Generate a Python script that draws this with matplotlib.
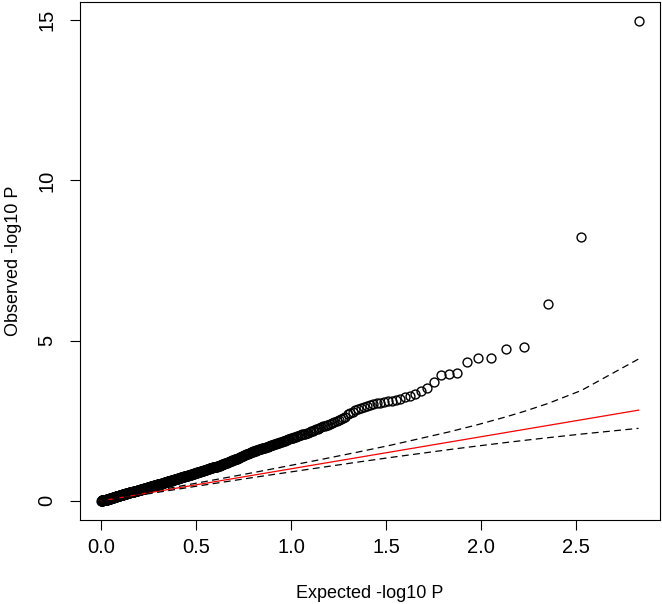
#!/usr/bin/env python3
"""
QQ plot of association p-values
===============================

Observed vs expected -log10 P with the y = x reference line (red) and the
95% concentration band (dashed), drawn R-base style. Saves out.png.
"""

import numpy as np
import matplotlib

matplotlib.use("Agg")
import matplotlib.pyplot as plt

# ---------------------------------------------------------------------------
# Data
# ---------------------------------------------------------------------------

# Observed -log10 P, sorted from most to least significant (one per test).
observed_log10p = [
    # ranks 1-67, individually readable
    14.97, 8.23, 6.15, 4.80, 4.73, 4.47, 4.47, 4.33, 4.00, 3.96,
    3.92, 3.70, 3.52, 3.42, 3.34, 3.27, 3.23, 3.18, 3.16, 3.13,
    3.11, 3.08, 3.06, 3.04, 3.01, 2.98, 2.96, 2.93, 2.90, 2.87,
    2.84, 2.78, 2.73, 2.70, 2.62, 2.57, 2.55, 2.52, 2.49, 2.46,
    2.44, 2.41, 2.38, 2.36, 2.34, 2.32, 2.30, 2.27, 2.25, 2.23,
    2.21, 2.19, 2.17, 2.15, 2.13, 2.12, 2.10, 2.09, 2.07, 2.06,
    2.04, 2.03, 2.02, 2.00, 1.99, 1.97, 1.96,
    # ranks 68-200, dense band
    1.95, 1.93, 1.92, 1.91, 1.90, 1.88, 1.87, 1.86, 1.84, 1.83, 1.82, 1.80, 1.79,
    1.78, 1.77, 1.76, 1.75, 1.74, 1.73, 1.72, 1.71, 1.70, 1.69,
    1.68, 1.67, 1.66, 1.66, 1.65, 1.64, 1.63, 1.62, 1.62, 1.61,
    1.60, 1.59, 1.58, 1.57, 1.56, 1.55, 1.54, 1.53, 1.52, 1.51,
    1.50, 1.49, 1.48, 1.47, 1.46, 1.45, 1.45, 1.44, 1.43, 1.42,
    1.41, 1.40, 1.39, 1.38, 1.37, 1.36, 1.35, 1.34, 1.33, 1.32,
    1.32, 1.31, 1.30, 1.29, 1.28, 1.27, 1.26, 1.26, 1.25, 1.24,
    1.23, 1.23, 1.22, 1.21, 1.21, 1.20, 1.19, 1.19, 1.18, 1.17,
    1.17, 1.16, 1.15, 1.15, 1.14, 1.14, 1.13, 1.12, 1.12, 1.11,
    1.10, 1.10, 1.09, 1.09, 1.08, 1.08, 1.07, 1.07, 1.06, 1.06,
    1.05, 1.05, 1.05, 1.04, 1.04, 1.03, 1.03, 1.03, 1.02, 1.02,
    1.01, 1.01, 1.00, 1.00, 0.99, 0.99, 0.98, 0.98, 0.97, 0.97,
    0.96, 0.96, 0.95, 0.95, 0.95, 0.94, 0.94, 0.93, 0.93, 0.93,
    # ranks 201-400
    0.92, 0.92, 0.92, 0.91, 0.91, 0.91, 0.90, 0.90, 0.89, 0.89,
    0.89, 0.88, 0.88, 0.88, 0.87, 0.87, 0.86, 0.86, 0.86, 0.85,
    0.85, 0.85, 0.84, 0.84, 0.84, 0.83, 0.83, 0.82, 0.82, 0.82,
    0.81, 0.81, 0.81, 0.80, 0.80, 0.80, 0.79, 0.79, 0.78, 0.78,
    0.78, 0.77, 0.77, 0.77, 0.76, 0.76, 0.76, 0.75, 0.75, 0.75,
    0.74, 0.74, 0.74, 0.73, 0.73, 0.73, 0.73, 0.72, 0.72, 0.72,
    0.71, 0.71, 0.71, 0.71, 0.70, 0.70, 0.70, 0.69, 0.69, 0.69,
    0.69, 0.68, 0.68, 0.68, 0.67, 0.67, 0.67, 0.67, 0.66, 0.66,
    0.66, 0.65, 0.65, 0.65, 0.65, 0.64, 0.64, 0.64, 0.64, 0.63,
    0.63, 0.63, 0.63, 0.63, 0.62, 0.62, 0.62, 0.62, 0.61, 0.61,
    0.61, 0.61, 0.60, 0.60, 0.60, 0.60, 0.59, 0.59, 0.59, 0.59,
    0.58, 0.58, 0.58, 0.58, 0.57, 0.57, 0.57, 0.56, 0.56, 0.56,
    0.56, 0.55, 0.55, 0.55, 0.55, 0.54, 0.54, 0.54, 0.54, 0.53,
    0.53, 0.53, 0.53, 0.52, 0.52, 0.52, 0.52, 0.51, 0.51, 0.51,
    0.51, 0.50, 0.50, 0.50, 0.50, 0.50, 0.49, 0.49, 0.49, 0.49,
    0.48, 0.48, 0.48, 0.48, 0.48, 0.47, 0.47, 0.47, 0.47, 0.47,
    0.46, 0.46, 0.46, 0.46, 0.46, 0.45, 0.45, 0.45, 0.45, 0.45,
    0.44, 0.44, 0.44, 0.44, 0.44, 0.43, 0.43, 0.43, 0.43, 0.43,
    0.42, 0.42, 0.42, 0.42, 0.42, 0.41, 0.41, 0.41, 0.41, 0.41,
    0.40, 0.40, 0.40, 0.40, 0.40, 0.40, 0.39, 0.39, 0.39, 0.39,
    # ranks 401-600
    0.39, 0.38, 0.38, 0.38, 0.38, 0.38, 0.38, 0.37, 0.37, 0.37,
    0.37, 0.37, 0.36, 0.36, 0.36, 0.36, 0.36, 0.36, 0.35, 0.35,
    0.35, 0.35, 0.35, 0.35, 0.34, 0.34, 0.34, 0.34, 0.34, 0.34,
    0.33, 0.33, 0.33, 0.33, 0.33, 0.33, 0.32, 0.32, 0.32, 0.32,
    0.32, 0.32, 0.32, 0.31, 0.31, 0.31, 0.31, 0.31, 0.31, 0.31,
    0.30, 0.30, 0.30, 0.30, 0.30, 0.30, 0.29, 0.29, 0.29, 0.29,
    0.29, 0.29, 0.28, 0.28, 0.28, 0.28, 0.28, 0.28, 0.27, 0.27,
    0.27, 0.27, 0.27, 0.27, 0.26, 0.26, 0.26, 0.26, 0.26, 0.26,
    0.25, 0.25, 0.25, 0.25, 0.25, 0.25, 0.25, 0.24, 0.24, 0.24,
    0.24, 0.24, 0.24, 0.23, 0.23, 0.23, 0.23, 0.23, 0.23, 0.23,
    0.22, 0.22, 0.22, 0.22, 0.22, 0.22, 0.22, 0.21, 0.21, 0.21,
    0.21, 0.21, 0.21, 0.21, 0.20, 0.20, 0.20, 0.20, 0.20, 0.20,
    0.20, 0.19, 0.19, 0.19, 0.19, 0.19, 0.19, 0.19, 0.18, 0.18,
    0.18, 0.18, 0.18, 0.18, 0.18, 0.17, 0.17, 0.17, 0.17, 0.17,
    0.17, 0.17, 0.16, 0.16, 0.16, 0.16, 0.16, 0.16, 0.16, 0.16,
    0.15, 0.15, 0.15, 0.15, 0.15, 0.15, 0.15, 0.14, 0.14, 0.14,
    0.14, 0.14, 0.14, 0.14, 0.13, 0.13, 0.13, 0.13, 0.13, 0.13,
    0.13, 0.12, 0.12, 0.12, 0.12, 0.12, 0.12, 0.12, 0.11, 0.11,
    0.11, 0.11, 0.11, 0.11, 0.11, 0.10, 0.10, 0.10, 0.10, 0.10,
    0.10, 0.10, 0.09, 0.09, 0.09, 0.09, 0.09, 0.09, 0.09, 0.09,
    # ranks 601-675
    0.08, 0.08, 0.08, 0.08, 0.08, 0.08, 0.08, 0.08, 0.07, 0.07,
    0.07, 0.07, 0.07, 0.07, 0.07, 0.07, 0.06, 0.06, 0.06, 0.06,
    0.06, 0.06, 0.06, 0.06, 0.05, 0.05, 0.05, 0.05, 0.05, 0.05,
    0.05, 0.05, 0.04, 0.04, 0.04, 0.04, 0.04, 0.04, 0.04, 0.04,
    0.03, 0.03, 0.03, 0.03, 0.03, 0.03, 0.03, 0.03, 0.03, 0.02,
    0.02, 0.02, 0.02, 0.02, 0.02, 0.02, 0.02, 0.02, 0.01, 0.01,
    0.01, 0.01, 0.01, 0.01, 0.01, 0.01, 0.01, 0.01, 0.01, 0.00,
    0.00, 0.00, 0.00, 0.00, 0.00,
]

# 95% band (dashed), vertices
band_expected = [0.0006, 0.0170, 0.0518, 0.1315, 0.2279, 0.3535, 0.5290, 0.6540,
                 0.8300, 1.1310, 1.3530, 1.5290, 1.8300, 1.9850, 2.1310, 2.2280,
                 2.3530, 2.5290, 2.8300]
band_upper = [0.0024, 0.0250, 0.0634, 0.1515, 0.2557, 0.3918, 0.5820, 0.7183,
              0.9136, 1.2590, 1.5230, 1.7420, 2.1480, 2.3800, 2.6190, 2.7920,
              3.0380, 3.4450, 4.4260]
band_lower = [0.0000, 0.0110, 0.0401, 0.1125, 0.2013, 0.3183, 0.4810, 0.5952,
              0.7545, 1.0180, 1.2100, 1.3570, 1.5970, 1.7130, 1.8190, 1.8860,
              1.9700, 2.0830, 2.2620]

x_ticks = [0.0, 0.5, 1.0, 1.5, 2.0, 2.5]
y_ticks = [0, 5, 10, 15]

W, H = 662, 604


def r_range(values):
    """R's default 4% axis extension."""
    lo, hi = float(np.min(values)), float(np.max(values))
    pad = 0.04 * (hi - lo)
    return lo - pad, hi + pad


def main() -> None:
    plt.rcParams["font.family"] = ["Liberation Sans", "DejaVu Sans"]

    obs = np.array(observed_log10p)
    n = len(obs)
    expected = -np.log10(np.arange(1, n + 1) / (n + 1))

    fig = plt.figure(figsize=(W / 100, H / 100), dpi=100)
    left, right, top, bottom = 80, 660, 2, 520
    ax = fig.add_axes([left / W, 1 - bottom / H, (right - left) / W, (bottom - top) / H])

    ax.plot(expected, obs, linestyle="none", marker="o", markersize=6.4,
            markerfacecolor="none", markeredgecolor="black", markeredgewidth=1.0,
            zorder=2)
    ax.plot(expected, expected, color="red", linewidth=0.9, zorder=3)
    for band in (band_upper, band_lower):
        ax.plot(band_expected, band, color="black", linewidth=0.9,
                linestyle=(0, (5.5, 3.5)), zorder=3)

    ax.set_xlim(*r_range(expected))
    ax.set_ylim(*r_range(obs))
    ax.set_xticks(x_ticks)
    ax.set_xticklabels([f"{t:.1f}" for t in x_ticks])
    ax.set_yticks(y_ticks)
    ax.set_yticklabels([str(t) for t in y_ticks], rotation=90, va="center")

    for s in ax.spines.values():
        s.set_linewidth(0.8)
        s.set_color("black")
    ax.tick_params(direction="out", length=7, width=0.8, labelsize=14.5)
    ax.tick_params(axis="x", pad=6)
    ax.tick_params(axis="y", pad=10)

    fig.text((left + right) / 2 / W, 1 - 598 / H, "Expected -log10 P",
             ha="center", va="baseline", fontsize=13)
    fig.text(13.5 / W, 1 - (top + bottom) / 2 / H, "Observed -log10 P",
             ha="center", va="center", rotation=90, fontsize=13)

    fig.savefig("out.png", dpi=100, facecolor="white")
    plt.close(fig)


if __name__ == "__main__":
    main()
